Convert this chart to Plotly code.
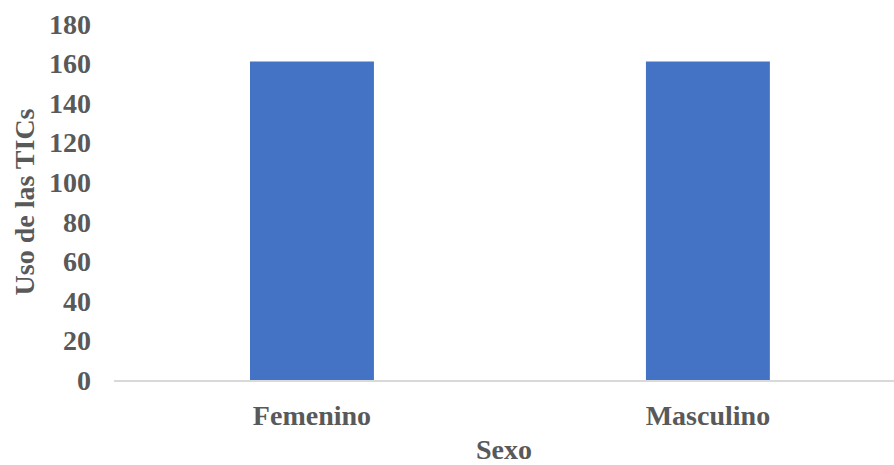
import plotly.graph_objects as go

categorias = ["Femenino", "Masculino"]
valores = [161, 161]
ticks_y = [0, 20, 40, 60, 80, 100, 120, 140, 160, 180]

FONT = "Liberation Serif"
GRAY = "#595959"

fig = go.Figure(go.Bar(
    x=categorias, y=valores,
    marker=dict(color="#4472C4", line=dict(width=0)),
    width=0.313,
))

fig.update_layout(
    width=894, height=465,
    margin=dict(l=114, r=0, t=24, b=85),
    paper_bgcolor="white", plot_bgcolor="white",
    showlegend=False,
    font=dict(family=FONT, size=28, color=GRAY),
)
fig.update_xaxes(
    range=[-0.5, 1.47],
    automargin=False,
    showline=True, linecolor="#D9D9D9", linewidth=2,
    showgrid=False, ticks="",
    tickfont=dict(family=FONT, size=28, color=GRAY, weight="bold"),
    ticklabelstandoff=9,
    title=dict(text="<b>Sexo</b>", font=dict(family=FONT, size=28, color=GRAY), standoff=18),
)
fig.update_yaxes(
    range=[0, 180],
    automargin=False,
    tickvals=ticks_y,
    showline=False, showgrid=False, zeroline=False, ticks="",
    tickfont=dict(family=FONT, size=28, color=GRAY, weight="bold"),
    ticklabelstandoff=22,
    title=dict(text="<b>Uso de las TICs</b>", font=dict(family=FONT, size=28, color=GRAY), standoff=6),
)

fig.write_html("out.html")
